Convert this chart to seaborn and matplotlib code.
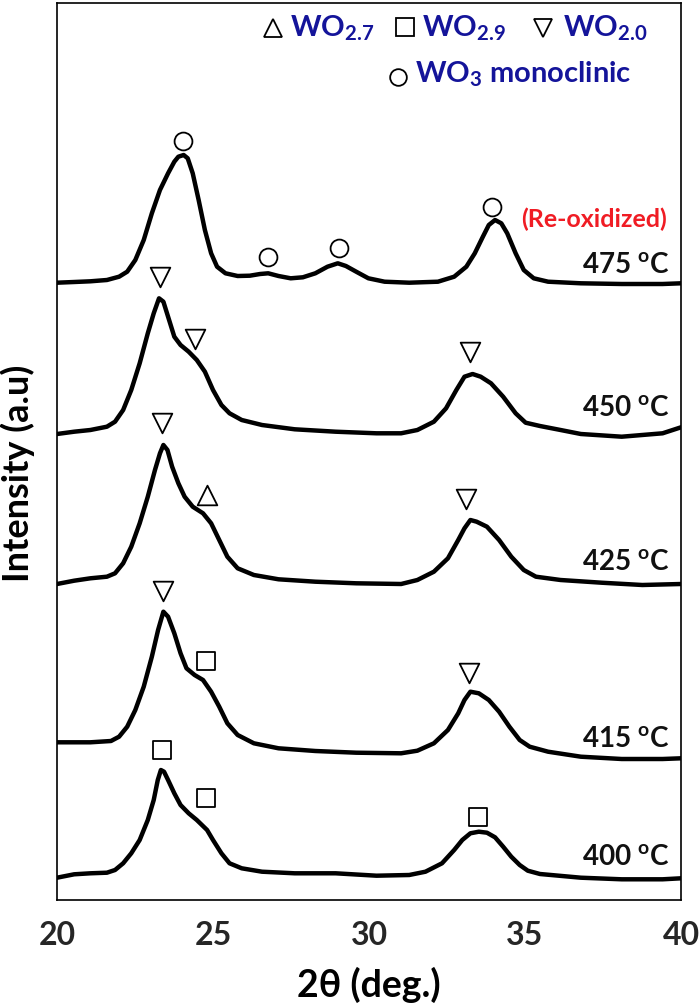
import numpy as np
import pandas as pd
import matplotlib
matplotlib.use("Agg")
import matplotlib.pyplot as plt
import seaborn as sns

# ---------------- data (2-theta in deg, intensity in a.u.) ----------------
tt_400 = [20.0, 20.55, 21.07, 21.6, 21.86, 22.12, 22.38, 22.65, 22.91, 23.1, 23.23, 23.33, 23.43, 23.56, 23.76,
          23.96, 24.22, 24.48, 24.81, 25.0, 25.27, 25.53, 25.92, 26.57, 27.62, 28.93, 30.24, 31.29, 31.81, 32.34,
          32.73, 32.99, 33.25, 33.52, 33.78, 34.04, 34.3, 34.56, 34.83, 35.09, 35.48, 36.79, 38.1, 39.41, 40.0]
int_400 = [4.3, 7.7, 8.7, 9.3, 12, 18.7, 28.7, 42, 62, 82, 102, 112, 110.3, 102, 88.7,
           77, 68.7, 62, 52, 42, 28.7, 18.7, 13.7, 10.3, 8.7, 8.7, 6.3, 7, 10.3, 18.7,
           32, 42, 48.7, 50.3, 49.3, 44.7, 35.3, 25.3, 17, 11.3, 8, 4.3, 2.7, 2.7, 3.7]

tt_415 = [20.0, 20.55, 21.07, 21.73, 21.99, 22.25, 22.51, 22.78, 23.04, 23.24, 23.41, 23.56, 23.76, 23.96, 24.15,
          24.41, 24.68, 24.94, 25.2, 25.46, 25.79, 26.31, 27.1, 28.28, 29.59, 31.03, 31.55, 32.08, 32.53, 32.86,
          33.06, 33.25, 33.52, 33.84, 34.17, 34.5, 34.83, 35.15, 35.74, 36.79, 38.1, 39.41, 40.0]
int_415 = [19.7, 19.7, 19.7, 21, 25.3, 35.3, 52, 75.3, 105.3, 132, 150.3, 145.3, 128.7, 108.7, 93.7,
           87, 82, 70.3, 55.3, 38.7, 27, 18.7, 13.7, 11, 9.3, 8.7, 11.3, 18.7, 32, 48.7,
           62, 70.3, 68.7, 62, 50.3, 35.3, 22, 15.3, 10.3, 5.3, 3, 3, 3.7]

tt_425 = [20.0, 20.55, 21.07, 21.6, 21.86, 22.12, 22.38, 22.65, 22.91, 23.14, 23.3, 23.41, 23.54, 23.69, 23.89,
          24.09, 24.35, 24.68, 24.94, 25.2, 25.46, 25.79, 26.31, 27.1, 28.28, 29.59, 31.03, 31.55, 32.08, 32.53,
          32.86, 33.06, 33.25, 33.45, 33.78, 34.17, 34.56, 34.96, 35.35, 36.14, 37.45, 38.76, 40.0]
int_425 = [18, 21.3, 23.7, 25.3, 28.7, 38.7, 55.3, 78.7, 105.3, 132, 148.7, 157, 152, 135.3, 118.7,
           105.3, 95.3, 88.7, 78.7, 62, 45.3, 33.7, 27, 22.7, 20.3, 18.7, 18, 22, 30.3, 43.7,
           62, 73.7, 82, 80.3, 75.3, 62, 45.3, 32, 25.3, 22, 19.3, 17, 18]

tt_450 = [20.0, 20.55, 21.07, 21.6, 21.86, 22.12, 22.38, 22.65, 22.91, 23.1, 23.27, 23.41, 23.56, 23.76, 23.96,
          24.22, 24.48, 24.74, 25.0, 25.27, 25.53, 25.92, 26.57, 27.62, 28.93, 30.24, 31.03, 31.55, 32.08, 32.47,
          32.8, 33.06, 33.32, 33.58, 33.91, 34.3, 34.7, 35.02, 35.48, 36.14, 36.79, 38.1, 39.41, 40.0]
int_450 = [18, 20.3, 22, 25.3, 30.3, 42, 62, 88.7, 118.7, 138.7, 153.7, 150.3, 135.3, 115.3, 107,
           100.3, 92, 80.3, 62, 47, 38.7, 32, 27, 22.7, 20.3, 18.7, 18.7, 22, 30.3, 43.7,
           62, 75.3, 78, 75.3, 68.7, 55.3, 38.7, 29.3, 26, 22, 18, 15.3, 18.7, 24.7]

tt_475 = [20.0, 20.55, 21.07, 21.6, 21.99, 22.25, 22.51, 22.78, 23.04, 23.3, 23.56, 23.76, 23.89, 24.06, 24.19,
          24.35, 24.54, 24.74, 24.94, 25.13, 25.4, 25.79, 26.18, 26.51, 26.77, 27.1, 27.49, 27.88, 28.28, 28.67,
          29.0, 29.26, 29.59, 29.98, 30.5, 31.29, 32.21, 32.73, 33.12, 33.39, 33.65, 33.84, 34.04, 34.24, 34.43,
          34.7, 34.96, 35.28, 35.74, 36.79, 38.1, 39.41, 40.0]
int_475 = [19.3, 20, 20.7, 22, 25.3, 30.3, 42, 62, 88.7, 112, 128.7, 140.3, 145.3, 147, 143.7,
           128.7, 102, 72, 48.7, 35.3, 28.7, 26, 26.3, 28, 28.7, 26, 23.7, 24.7, 28.7, 35.3,
           38.7, 36, 30.3, 23.7, 20.3, 19.3, 20.3, 25.3, 35.3, 48.7, 65.3, 77, 82, 78.7, 68.7,
           48.7, 32, 23.7, 20.3, 18.7, 18, 18, 18.7]

temps = ["400", "415", "425", "450", "475"]
offsets = [18, 138, 298, 448, 598]          # vertical stacking offsets (a.u.)

# phase markers over the peaks
mk_temp = ["475", "475", "475", "475", "450", "450", "450", "425", "425", "425",
           "415", "415", "415", "400", "400", "400"]
mk_phase = ["WO3", "WO3", "WO3", "WO3", "WO2.0", "WO2.0", "WO2.0", "WO2.0", "WO2.7", "WO2.0",
            "WO2.0", "WO2.9", "WO2.0", "WO2.9", "WO2.9", "WO2.9"]
mk_tt = [24.05, 26.75, 29.04, 33.95, 23.3, 24.41, 33.23, 23.37, 24.81, 33.12,
         23.41, 24.77, 33.19, 23.37, 24.77, 33.49]
mk_h = [161.3, 45.3, 53.7, 94.7, 175.3, 112.7, 100.3, 179.3, 107, 102.7,
        171, 101, 89.3, 132, 83.7, 65.3]

xticks = [20, 25, 30, 35, 40]

# ---------------- styling ----------------
sns.set_theme(style="white")
FONT = ["Lato", "DejaVu Sans"]
plt.rcParams["font.family"] = FONT
plt.rcParams["mathtext.fontset"] = "custom"
plt.rcParams["mathtext.rm"] = "Lato"
plt.rcParams["mathtext.bf"] = "Lato:bold"
plt.rcParams["mathtext.it"] = "Lato:italic"

BLUE = "#14149a"
RED = "#f01c24"

fig = plt.figure(figsize=(7.0, 10.05), dpi=100)
ax = fig.add_axes([57 / 700, 1 - 900 / 1005, 624 / 700, 897 / 1005])

series = {"400": (tt_400, int_400), "415": (tt_415, int_415), "425": (tt_425, int_425),
          "450": (tt_450, int_450), "475": (tt_475, int_475)}
off = dict(zip(temps, offsets))
rows = []
for t in temps:
    xs, ys = series[t]
    for a, b in zip(xs, ys):
        rows.append((t, a, b + off[t]))
df = pd.DataFrame(rows, columns=["temp", "tt", "y"])

sns.lineplot(data=df, x="tt", y="y", units="temp", estimator=None, sort=False,
             color="black", linewidth=3.2, ax=ax, legend=False)
for ln in ax.lines:
    ln.set_solid_joinstyle("round")
    ln.set_solid_capstyle("round")

mk = pd.DataFrame({"temp": mk_temp, "phase": mk_phase, "tt": mk_tt, "h": mk_h})
mk["y"] = mk["h"] + mk["temp"].map(off)
shape = {"WO2.7": "^", "WO2.9": "s", "WO2.0": "v", "WO3": "o"}
msize = {"WO2.7": 200, "WO2.9": 150, "WO2.0": 200, "WO3": 165}
for ph, sub in mk.groupby("phase"):
    sns.scatterplot(data=sub, x="tt", y="y", marker=shape[ph], s=msize[ph],
                    facecolor="white", edgecolor="black", linewidth=1.3,
                    ax=ax, legend=False, zorder=5)

ax.set_xlim(20, 40)
ax.set_ylim(0, 897)
ax.set_xticks(xticks)
ax.set_xticklabels([str(v) for v in xticks])
ax.set_yticks([])
ax.tick_params(axis="x", direction="inout", length=14, width=1.2, color="black",
               labelsize=23, pad=8)
for lab in ax.get_xticklabels():
    lab.set_fontweight("bold")
for s in ax.spines.values():
    s.set_color("black")
    s.set_linewidth(1.2)

ax.set_xlabel("2θ (deg.)", fontsize=27, fontweight="bold", color="black")
ax.xaxis.set_label_coords(0.5, -0.074)
ax.xaxis.label.set_va("top")
ax.set_ylabel("")
fig.text(18 / 700, 1 - 473 / 1005, "Intensity (a.u)", rotation=90, ha="center", va="center",
         fontsize=26, fontweight="bold", color="black")

# temperature labels
lab_y = {"475": 0.699, "450": 0.540, "425": 0.368, "415": 0.171, "400": 0.039}
for t in temps:
    ax.text(0.982, lab_y[t], t + r" $^{\mathbf{o}}$C", transform=ax.transAxes,
            ha="right", va="baseline", fontsize=20, fontweight="bold", color="#111111")
ax.text(0.977, 0.7506, "(Re-oxidized)", transform=ax.transAxes, ha="right", va="baseline",
        fontsize=18, fontweight="bold", color=RED)

# phase key
key = [("^", 0.346, 0.972, 0.373, 0.963, r"WO$_{\mathbf{2.7}}$", 13.5),
       ("s", 0.558, 0.973, 0.585, 0.963, r"WO$_{\mathbf{2.9}}$", 12.5),
       ("v", 0.779, 0.972, 0.811, 0.963, r"WO$_{\mathbf{2.0}}$", 13.5),
       ("o", 0.546, 0.9175, 0.574, 0.911, r"WO$_{\mathbf{3}}$ monoclinic", 12)]
for m, mx, my, tx, ty, txt, ms in key:
    ax.plot([mx], [my], marker=m, markersize=ms, markerfacecolor="white",
            markeredgecolor="black", markeredgewidth=1.3, transform=ax.transAxes,
            clip_on=False, linestyle="none")
    ax.text(tx, ty, txt, transform=ax.transAxes, ha="left", va="baseline",
            fontsize=21, fontweight="bold", color=BLUE)

fig.savefig("out.png", dpi=100)
